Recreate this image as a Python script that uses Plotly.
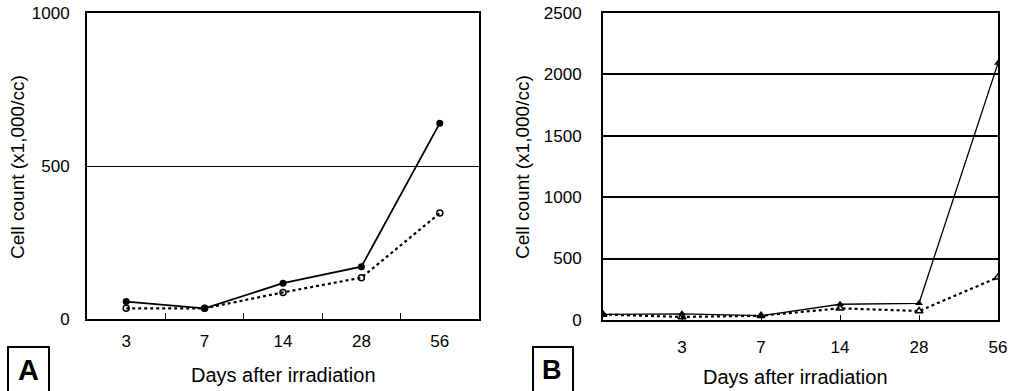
import plotly.graph_objects as go

# ---- data ----
days_a = ["3", "7", "14", "28", "56"]
a_solid = [57, 35, 117, 171, 640]
a_dotted = [35, 35, 87, 135, 346]

days_b = ["", "3", "7", "14", "28", "56"]
b_solid = [45, 50, 35, 128, 136, 2090]
b_dotted = [45, 25, 35, 95, 73, 347]

y_title = "Cell count (x1,000/cc)"
x_title = "Days after irradiation"

FONT = "Liberation Sans, Arial, sans-serif"
W, H = 1011, 391

fig = go.Figure()

xa = list(range(len(days_a)))
xb = list(range(len(days_b)))

fig.add_trace(go.Scatter(x=xa, y=a_dotted, mode="lines+markers", xaxis="x", yaxis="y",
                         line=dict(color="black", width=2.2, dash="dot"),
                         marker=dict(symbol="circle-open", size=6, color="black", line=dict(width=1.5))))
fig.add_trace(go.Scatter(x=xa, y=a_solid, mode="lines+markers", xaxis="x", yaxis="y",
                         line=dict(color="black", width=1.8),
                         marker=dict(symbol="circle", size=7, color="black")))
fig.add_trace(go.Scatter(x=xb, y=b_dotted, mode="lines+markers", xaxis="x2", yaxis="y2",
                         line=dict(color="black", width=2.2, dash="dot"),
                         marker=dict(symbol="triangle-up-open", size=7, color="black", line=dict(width=1.5))))
fig.add_trace(go.Scatter(x=xb, y=b_solid, mode="lines+markers", xaxis="x2", yaxis="y2",
                         line=dict(color="black", width=1.3),
                         marker=dict(symbol="triangle-up", size=7, color="black")))

def px_x(p):
    return p / W

def px_y(p):
    return (H - p) / H

tickfont = dict(family=FONT, size=17, color="black")

fig.update_layout(
    template="none",
    width=W, height=H,
    margin=dict(l=0, r=0, t=0, b=0, pad=0),
    paper_bgcolor="white", plot_bgcolor="white",
    showlegend=False,
    xaxis=dict(domain=[px_x(87), px_x(479)], anchor="y", range=[-0.5, 4.5], automargin=False,
               tickmode="array", tickvals=xa, ticktext=days_a, ticks="",
               tickfont=tickfont, ticklabelstandoff=6,
               showline=True, linecolor="black", linewidth=1.8, mirror=True,
               showgrid=False, zeroline=False,
               minor=dict(tickmode="array", tickvals=[0.5, 1.5, 2.5, 3.5], ticks="inside",
                          ticklen=6, tickcolor="black", tickwidth=1.2, showgrid=False)),
    yaxis=dict(domain=[px_y(319), px_y(13)], anchor="x", range=[0, 1000], automargin=False,
               tickmode="array", tickvals=[0, 500, 1000], ticks="",
               tickfont=tickfont, ticklabelstandoff=12,
               showline=True, linecolor="black", linewidth=1.8, mirror=True,
               showgrid=True, gridcolor="black", gridwidth=1.3, zeroline=False),
    xaxis2=dict(domain=[px_x(603), px_x(998)], anchor="y2", range=[0, 5], automargin=False,
                tickmode="array", tickvals=xb, ticktext=days_b, ticks="inside",
                ticklen=5, tickcolor="black", tickwidth=1.2,
                tickfont=tickfont, ticklabelstandoff=11,
                showline=True, linecolor="black", linewidth=1.8, mirror=True,
                showgrid=False, zeroline=False),
    yaxis2=dict(domain=[px_y(320), px_y(12.7)], anchor="x2", range=[0, 2500], automargin=False,
                tickmode="array", tickvals=[0, 500, 1000, 1500, 2000, 2500], ticks="",
                tickfont=tickfont, ticklabelstandoff=16,
                showline=True, linecolor="black", linewidth=1.8, mirror=True,
                showgrid=True, gridcolor="black", gridwidth=1.5, zeroline=False),
)

ytitle_font = dict(family=FONT, size=19, color="black")
xtitle_font = dict(family=FONT, size=20, color="black")
annots = [
    dict(x=px_x(17), y=px_y(167), text=y_title, textangle=-90, font=ytitle_font),
    dict(x=px_x(522), y=px_y(167), text=y_title, textangle=-90, font=ytitle_font),
    dict(x=px_x(283), y=px_y(375), text=x_title, font=xtitle_font),
    dict(x=px_x(795), y=px_y(377), text=x_title, font=xtitle_font),
]
for a in annots:
    fig.add_annotation(xref="paper", yref="paper", showarrow=False,
                       xanchor="center", yanchor="middle", **a)

# panel label boxes
fig.add_shape(type="rect", xref="paper", yref="paper",
              x0=px_x(8), x1=px_x(49), y0=px_y(395), y1=px_y(347),
              line=dict(color="black", width=2))
fig.add_shape(type="rect", xref="paper", yref="paper",
              x0=px_x(533), x1=px_x(573), y0=px_y(395), y1=px_y(347),
              line=dict(color="black", width=2))
fig.add_annotation(xref="paper", yref="paper", x=px_x(28.5), y=px_y(370), text="<b>A</b>",
                   showarrow=False, font=dict(family=FONT, size=29, color="black"),
                   xanchor="center", yanchor="middle")
fig.add_annotation(xref="paper", yref="paper", x=px_x(552), y=px_y(370), text="<b>B</b>",
                   showarrow=False, font=dict(family=FONT, size=27, color="black"),
                   xanchor="center", yanchor="middle")

fig.write_html("out.html", config={"displayModeBar": False},
               post_script="document.body.style.margin='0';document.body.style.overflow='hidden';")
